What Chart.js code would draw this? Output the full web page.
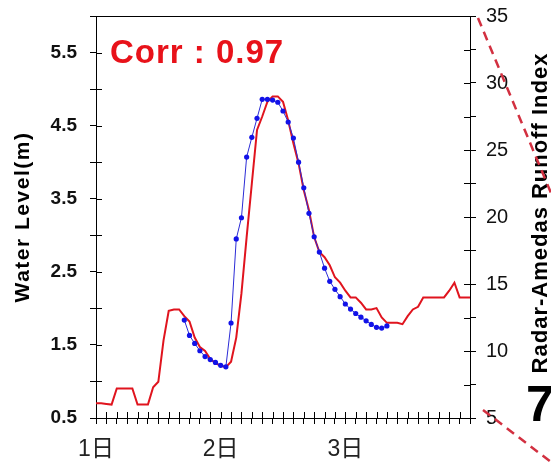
<!DOCTYPE html>
<html>
<head>
<meta charset="utf-8">
<script src="https://cdn.jsdelivr.net/npm/chart.js@4/dist/chart.umd.min.js"></script>
<style>
  html, body { margin: 0; padding: 0; background: #fff; }
  #wrap { width: 551px; height: 467px; }
</style>
</head>
<body>
<div id="wrap"><canvas id="chart"></canvas></div>
<script>
// hours from 1日 00:00
const dayLabels = ['1日', '2日', '3日'];

// water level (m), hourly, left axis
const levelHours = [17, 18, 19, 20, 21, 22, 23, 24, 25, 26, 27, 28, 29, 30, 31, 32, 33, 34, 35, 36,
    37, 38, 39, 40, 41, 42, 43, 44, 45, 46, 47, 48, 49, 50, 51, 52, 53, 54, 55, 56];
const waterLevel = [1.84, 1.63, 1.52, 1.42, 1.34, 1.30, 1.26, 1.22, 1.20, 1.80, 2.95, 3.24, 4.07, 4.34, 4.60, 4.86, 4.86, 4.85, 4.82, 4.70,
    4.55, 4.33, 4.00, 3.65, 3.30, 2.98, 2.77, 2.55, 2.37, 2.26, 2.16, 2.06, 1.99, 1.93, 1.88, 1.83, 1.78, 1.74, 1.73, 1.76];

// radar-amedas runoff index, hourly 0..72, right axis
const runoffIndex = [6.1, 6.1, 6.05, 6.0, 7.2, 7.2, 7.2, 7.2, 6.0, 6.0,
    6.0, 7.3, 7.7, 10.8, 13.0, 13.1, 13.1, 12.6, 12.2, 11.0,
    10.3, 10.0, 9.4, 9.1, 8.9, 8.8, 9.2, 11.0, 14.3, 18.5,
    22.5, 26.5, 27.5, 28.6, 29.0, 29.0, 28.6, 27.2, 25.5, 24.0,
    22.0, 20.5, 18.5, 17.4, 17.0, 16.4, 15.5, 15.1, 14.5, 14.0,
    14.0, 13.6, 13.1, 13.1, 13.2, 12.5, 12.1, 12.1, 12.1, 12.0,
    12.6, 13.1, 13.3, 14.0, 14.0, 14.0, 14.0, 14.0, 14.5, 15.1,
    14.0, 14.0, 14.0];

const corrText = 'Corr : 0.97';
const leftTitle = 'Water Level(m)';
const rightTitle = 'Radar-Amedas Runoff Index';

const FONT = '"Liberation Sans", Arial, "Noto Sans CJK JP", sans-serif';

// inner half of the crossing ticks, frame top, titles, labels
const decor = {
    id: 'decor',
    afterDraw(chart) {
        const { ctx, chartArea: a, scales } = chart;
        ctx.save();
        ctx.strokeStyle = '#000';
        ctx.lineWidth = 1;
        ctx.beginPath();
        ctx.moveTo(a.left, a.top + 0.5);
        ctx.lineTo(a.right, a.top + 0.5);
        scales.y.ticks.forEach(t => {
            const p = Math.round(scales.y.getPixelForValue(t.value)) + 0.5;
            ctx.moveTo(a.left, p); ctx.lineTo(a.left + 6, p);
        });
        scales.y2.ticks.forEach(t => {
            const p = Math.round(scales.y2.getPixelForValue(t.value)) + 0.5;
            ctx.moveTo(a.right - 6, p); ctx.lineTo(a.right, p);
        });
        scales.x.ticks.forEach(t => {
            const p = Math.round(scales.x.getPixelForValue(t.value)) + 0.5;
            ctx.moveTo(p, a.bottom - 6); ctx.lineTo(p, a.bottom);
        });
        ctx.stroke();

        // correlation
        ctx.fillStyle = '#e8121a';
        ctx.font = 'bold 33px ' + FONT;
        ctx.letterSpacing = '1px';
        ctx.textAlign = 'left';
        ctx.textBaseline = 'alphabetic';
        ctx.fillText(corrText, a.left + 14, a.top + 47);

        // axis titles (both read bottom to top)
        ctx.fillStyle = '#000';
        ctx.textAlign = 'center';
        ctx.textBaseline = 'middle';
        ctx.save();
        ctx.translate(23, (a.top + a.bottom) / 2);
        ctx.rotate(-Math.PI / 2);
        ctx.font = 'bold 21px ' + FONT;
        ctx.letterSpacing = '1.5px';
        ctx.fillText(leftTitle, 0, 0);
        ctx.restore();
        ctx.save();
        ctx.translate(a.right + 71, (a.top + a.bottom) / 2 - 4);
        ctx.rotate(-Math.PI / 2);
        ctx.font = 'bold 22px ' + FONT;
        ctx.letterSpacing = '1px';
        ctx.fillText(rightTitle, 0, 0);
        ctx.restore();

        // leftovers of the source figure at the right edge
        ctx.letterSpacing = '0px';
        ctx.font = 'bold 50px ' + FONT;
        ctx.textAlign = 'left';
        ctx.textBaseline = 'alphabetic';
        ctx.fillText('7', a.right + 56, a.bottom + 3);
        ctx.strokeStyle = '#d23040';
        ctx.lineWidth = 2.5;
        ctx.setLineDash([9, 6]);
        ctx.beginPath();
        ctx.moveTo(a.right + 8, a.top + 2);
        ctx.lineTo(chart.width, a.top + 177);
        ctx.moveTo(a.right + 13, a.bottom - 8);
        ctx.lineTo(chart.width, a.bottom + 44);
        ctx.stroke();
        ctx.restore();
    }
};

const noPad = s => { s.paddingTop = 0; s.paddingBottom = 0; s.paddingLeft = 0; s.paddingRight = 0; };

new Chart(document.getElementById('chart'), {
    type: 'line',
    data: {
        datasets: [
            {
                label: 'Water Level',
                data: levelHours.map((h, i) => ({ x: h, y: waterLevel[i] })),
                yAxisID: 'y',
                borderColor: '#2b2bd6',
                borderWidth: 1,
                pointRadius: 2.6,
                pointBorderWidth: 0,
                pointBackgroundColor: '#1212e8',
                tension: 0
            },
            {
                label: 'Runoff Index',
                data: runoffIndex.map((v, h) => ({ x: h, y: v })),
                yAxisID: 'y2',
                borderColor: '#e0141e',
                borderWidth: 2,
                pointRadius: 0,
                tension: 0
            }
        ]
    },
    options: {
        responsive: true,
        maintainAspectRatio: false,
        animation: false,
        layout: { padding: { top: 16, left: 0, right: 0, bottom: 0 } },
        plugins: { legend: { display: false }, tooltip: { enabled: false } },
        scales: {
            x: {
                type: 'linear',
                position: 'bottom',
                min: 0,
                max: 72,
                afterFit: s => { s.height = 49; noPad(s); },
                grid: { drawOnChartArea: false, tickLength: 6, color: '#000' },
                border: { color: '#000', width: 1 },
                ticks: {
                    stepSize: 2,
                    autoSkip: false,
                    maxRotation: 0,
                    padding: 12,
                    color: '#222',
                    font: { family: FONT, size: 23 },
                    callback: v => (v % 24 === 0 && v / 24 < dayLabels.length) ? dayLabels[v / 24] : ''
                }
            },
            y: {
                position: 'left',
                min: 0.5,
                max: 6,
                afterFit: s => { s.width = 96; noPad(s); },
                grid: { drawOnChartArea: false, tickLength: 6, color: '#000' },
                border: { color: '#000', width: 1 },
                ticks: {
                    stepSize: 0.5,
                    autoSkip: false,
                    padding: 13,
                    color: '#111',
                    font: { family: FONT, size: 19, weight: 'bold' },
                    callback: v => (Math.round(v * 2) % 2 === 1) ? v.toFixed(1) : ''
                }
            },
            y2: {
                position: 'right',
                min: 5,
                max: 35,
                afterFit: s => { s.width = 81; noPad(s); },
                grid: { drawOnChartArea: false, tickLength: 6, color: '#000' },
                border: { color: '#000', width: 1 },
                ticks: {
                    stepSize: 2.5,
                    autoSkip: false,
                    padding: 10,
                    color: '#111',
                    font: { family: FONT, size: 20 },
                    callback: v => (v % 5 === 0) ? String(v) : ''
                }
            }
        }
    },
    plugins: [decor]
});
</script>
</body>
</html>
